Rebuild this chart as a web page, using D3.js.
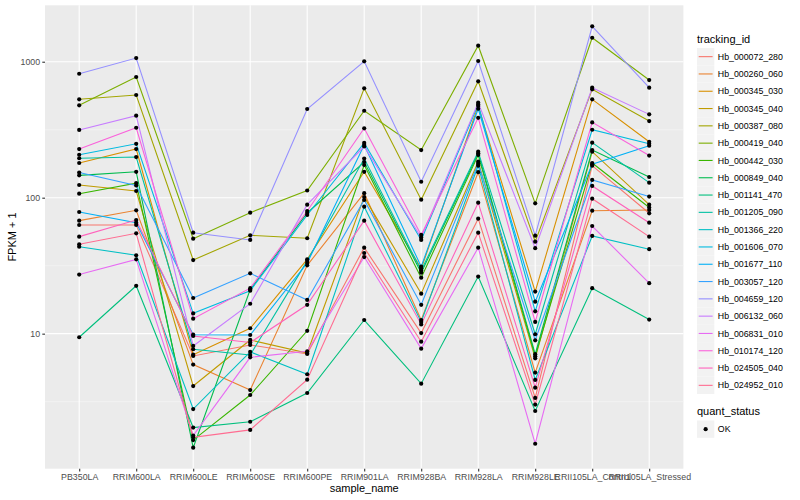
<!DOCTYPE html>
<html>
<head>
<meta charset="utf-8">
<script src="https://cdn.jsdelivr.net/npm/d3@7"></script>
<style>
  body { margin: 0; background: #fff; }
  text { font-family: "Liberation Sans", Arial, sans-serif; }
</style>
</head>
<body>
<div id="chart"></div>
<script>
// samples along the x axis
var samples = ["PB350LA", "RRIM600LA", "RRIM600LE", "RRIM600SE", "RRIM600PE", "RRIM901LA",
  "RRIM928BA", "RRIM928LA", "RRIM928LE", "RRII105LA_Control", "RRII105LA_Stressed"];

var yTicks = [10, 100, 1000];
var yMinor = [3.16, 31.6, 316];

// FPKM + 1 per gene, one value per sample
var hb_000072_280 = [63.0, 63.0, 6.86, 8.26, 7.09, 42.9, 10.1, 70.1, 3.37, 172, 76.8];
var hb_000260_060 = [67.8, 80.8, 5.92, 3.85, 31.8, 108, 12.6, 154, 5.17, 80.2, 81.2];
var hb_000345_030 = [180, 228, 7.01, 10.96, 35.2, 155, 30.1, 472, 20.4, 529, 258];
var hb_000345_040 = [124, 112, 4.12, 8.99, 7.21, 101, 19.7, 184, 6.59, 218, 88.9];
var hb_000387_080 = [529, 569, 34.8, 52.9, 50.3, 637, 96.7, 718, 47.5, 627, 366];
var hb_000419_040 = [478, 772, 50.0, 77.6, 113, 436, 224, 1312, 90.9, 1501, 733];
var hb_000442_030 = [107, 128, 1.65, 3.54, 10.5, 174, 25.8, 206, 6.82, 180, 84.7];
var hb_000849_040 = [146, 155, 1.45, 21.1, 77.2, 183, 28.1, 212, 7.06, 224, 142];
var hb_001141_470 = [9.41, 22.5, 2.04, 2.25, 3.66, 12.6, 4.29, 26.3, 2.70, 21.6, 12.7];
var hb_001205_090 = [195, 199, 7.68, 6.97, 34.3, 194, 29.1, 218, 9.90, 254, 129];
var hb_001366_220 = [43.6, 37.7, 2.79, 7.34, 5.03, 85.9, 12.2, 172, 4.57, 52.3, 41.8];
var hb_001606_070 = [207, 249, 14.1, 20.7, 74.6, 253, 48.9, 485, 14.6, 316, 249];
var hb_001677_110 = [78.5, 65.5, 9.83, 9.78, 33.1, 244, 31.1, 451, 17.2, 176, 241];
var hb_003057_120 = [153, 123, 18.3, 27.8, 17.7, 96.2, 16.3, 178, 8.94, 135, 102];
var hb_004659_120 = [816, 1064, 55.3, 48.9, 449, 1007, 131, 1012, 52.6, 1820, 644];
var hb_006132_060 = [315, 401, 8.12, 16.6, 88.9, 238, 51.0, 500, 42.5, 644, 410];
var hb_006831_010 = [27.2, 35.2, 1.78, 6.70, 7.42, 36.6, 7.76, 42.9, 1.55, 61.9, 23.5];
var hb_010174_120 = [228, 327, 12.9, 21.6, 79.8, 324, 53.2, 387, 12.2, 358, 204];
var hb_024505_040 = [51.7, 68.5, 9.62, 8.61, 16.3, 67.8, 11.7, 91.9, 4.01, 122, 65.5];
var hb_024952_010 = [45.4, 54.7, 1.73, 1.96, 4.59, 39.2, 8.73, 55.3, 3.01, 98.3, 51.7];

var trackingIds = ["Hb_000072_280", "Hb_000260_060", "Hb_000345_030", "Hb_000345_040",
  "Hb_000387_080", "Hb_000419_040", "Hb_000442_030", "Hb_000849_040", "Hb_001141_470",
  "Hb_001205_090", "Hb_001366_220", "Hb_001606_070", "Hb_001677_110", "Hb_003057_120",
  "Hb_004659_120", "Hb_006132_060", "Hb_006831_010", "Hb_010174_120", "Hb_024505_040",
  "Hb_024952_010"];

var seriesValues = [hb_000072_280, hb_000260_060, hb_000345_030, hb_000345_040,
  hb_000387_080, hb_000419_040, hb_000442_030, hb_000849_040, hb_001141_470,
  hb_001205_090, hb_001366_220, hb_001606_070, hb_001677_110, hb_003057_120,
  hb_004659_120, hb_006132_060, hb_006831_010, hb_010174_120, hb_024505_040,
  hb_024952_010];

// ggplot hue palette for 20 levels
var palette = ["#F8766D", "#EA8331", "#D89000", "#C09B00", "#A3A500", "#7CAE00",
  "#39B600", "#00BB4E", "#00BF7D", "#00C1A3", "#00BFC4", "#00BAE0", "#00B0F6",
  "#35A2FF", "#9590FF", "#C77CFF", "#E76BF3", "#FA62DB", "#FF62BC", "#FF6C91"];

var series = trackingIds.map((id, i) => ({
  id: id,
  color: palette[i],
  values: seriesValues[i].map((v, j) => ({ sample: samples[j], value: v }))
}));

// set up chart
var svgWidth = 800;
var svgHeight = 500;

var panel = { left: 45, right: 683.4, top: 5.3, bottom: 468.7 };

var svg = d3.select("#chart")
  .append("svg")
  .attr("width", svgWidth)
  .attr("height", svgHeight);

var xScale = d3.scalePoint()
  .domain(samples)
  .range([panel.left, panel.right])
  .padding(0.6);

var yScale = d3.scaleLog()
  .domain([1.016, 2600])
  .range([panel.bottom, panel.top]);

// panel background
svg.append("rect")
  .attr("x", panel.left)
  .attr("y", panel.top)
  .attr("width", panel.right - panel.left)
  .attr("height", panel.bottom - panel.top)
  .attr("fill", "#EBEBEB");

var grid = svg.append("g");

grid.selectAll(".minor")
  .data(yMinor)
  .enter()
  .append("line")
  .attr("x1", panel.left)
  .attr("x2", panel.right)
  .attr("y1", (d) => yScale(d))
  .attr("y2", (d) => yScale(d))
  .attr("stroke", "#F7F7F7")
  .attr("stroke-width", 0.6);

grid.selectAll(".major")
  .data(yTicks)
  .enter()
  .append("line")
  .attr("x1", panel.left)
  .attr("x2", panel.right)
  .attr("y1", (d) => yScale(d))
  .attr("y2", (d) => yScale(d))
  .attr("stroke", "#FFFFFF")
  .attr("stroke-width", 1.1);

grid.selectAll(".vmajor")
  .data(samples)
  .enter()
  .append("line")
  .attr("x1", (d) => xScale(d))
  .attr("x2", (d) => xScale(d))
  .attr("y1", panel.top)
  .attr("y2", panel.bottom)
  .attr("stroke", "#FFFFFF")
  .attr("stroke-width", 1.1);

// lines
var line = d3.line()
  .x((d) => xScale(d.sample))
  .y((d) => yScale(d.value));

svg.append("g")
  .selectAll("path")
  .data(series)
  .enter()
  .append("path")
  .attr("d", (d) => line(d.values))
  .attr("fill", "none")
  .attr("stroke", (d) => d.color)
  .attr("stroke-width", 1.1);

// points
var allPoints = series.flatMap((s) => s.values);

svg.append("g")
  .selectAll("circle")
  .data(allPoints)
  .enter()
  .append("circle")
  .attr("cx", (d) => xScale(d.sample))
  .attr("cy", (d) => yScale(d.value))
  .attr("r", 2.1)
  .attr("fill", "#000");

// axes
var leftAxis = d3.axisLeft(yScale)
  .tickValues(yTicks)
  .tickFormat(d3.format("d"))
  .tickSize(2.7)
  .tickPadding(2.2);

var bottomAxis = d3.axisBottom(xScale)
  .tickSize(2.7)
  .tickPadding(2.2);

var yAxis = svg.append("g")
  .attr("transform", `translate(${panel.left}, 0)`)
  .call(leftAxis);

var xAxis = svg.append("g")
  .attr("transform", `translate(0, ${panel.bottom})`)
  .call(bottomAxis);

[yAxis, xAxis].forEach((ax) => {
  ax.select(".domain").remove();
  ax.selectAll(".tick line").attr("stroke", "#333333").attr("stroke-width", 1.1);
  ax.selectAll(".tick text")
    .attr("fill", "#4D4D4D")
    .attr("font-size", "8.8px")
    .attr("font-family", "Liberation Sans, Arial, sans-serif");
});

svg.append("text")
  .attr("x", (panel.left + panel.right) / 2)
  .attr("y", 492)
  .attr("text-anchor", "middle")
  .attr("font-size", "11px")
  .attr("fill", "#000")
  .text("sample_name");

svg.append("text")
  .attr("transform", `translate(16, ${(panel.top + panel.bottom) / 2}) rotate(-90)`)
  .attr("text-anchor", "middle")
  .attr("font-size", "11px")
  .attr("fill", "#000")
  .text("FPKM + 1");

// legend: tracking_id
var legendX = 697;
var keySize = 17.3;
var legendTop = 48;

svg.append("text")
  .attr("x", legendX)
  .attr("y", 43)
  .attr("font-size", "11px")
  .attr("fill", "#000")
  .text("tracking_id");

var keys = svg.append("g")
  .selectAll("g")
  .data(series)
  .enter()
  .append("g")
  .attr("transform", (d, i) => `translate(${legendX}, ${legendTop + i * keySize})`);

keys.append("rect")
  .attr("width", keySize)
  .attr("height", keySize)
  .attr("fill", "#F2F2F2");

keys.append("line")
  .attr("x1", 1.7)
  .attr("x2", keySize - 1.7)
  .attr("y1", keySize / 2)
  .attr("y2", keySize / 2)
  .attr("stroke", (d) => d.color)
  .attr("stroke-width", 1.1);

keys.append("text")
  .attr("x", keySize + 3.5)
  .attr("y", keySize / 2 + 3.1)
  .attr("font-size", "8.8px")
  .attr("fill", "#000")
  .text((d) => d.id);

// legend: quant_status
svg.append("text")
  .attr("x", legendX)
  .attr("y", 415)
  .attr("font-size", "11px")
  .attr("fill", "#000")
  .text("quant_status");

var okKey = svg.append("g")
  .attr("transform", `translate(${legendX}, 420.5)`);

okKey.append("rect")
  .attr("width", keySize)
  .attr("height", keySize)
  .attr("fill", "#F2F2F2");

okKey.append("circle")
  .attr("cx", keySize / 2)
  .attr("cy", keySize / 2)
  .attr("r", 2.1)
  .attr("fill", "#000");

okKey.append("text")
  .attr("x", keySize + 3.5)
  .attr("y", keySize / 2 + 3.1)
  .attr("font-size", "8.8px")
  .attr("fill", "#000")
  .text("OK");
</script>
</body>
</html>
